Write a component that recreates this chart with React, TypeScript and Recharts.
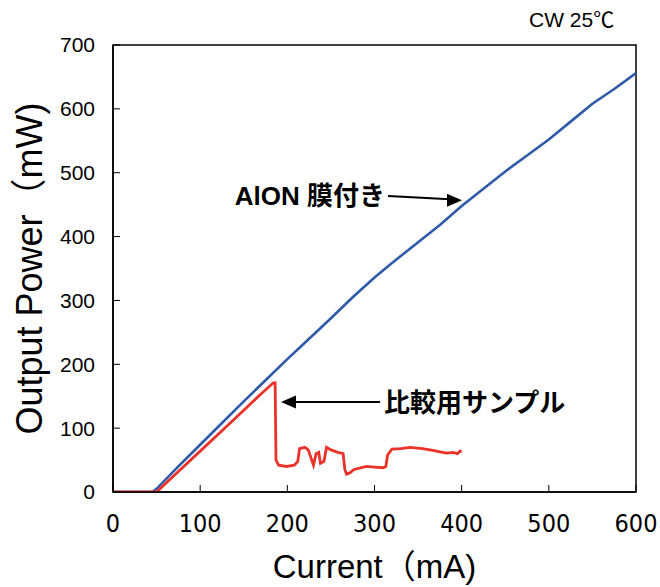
import {
    LineChart,
    Line,
    XAxis,
    YAxis,
    ReferenceArea,
    ReferenceLine,
    ReferenceDot,
} from 'recharts';

// Current (mA) / output power (mW)
const aionCurrent = [0, 45, 50, 75, 100, 125, 150, 175, 200, 225, 250, 275, 300, 325, 350, 375, 400, 425, 450, 475, 500, 525, 550, 575, 600];
const aionPower = [0, 0, 5, 40, 74, 108, 142, 175, 208, 240, 272, 305, 336, 364, 391, 418, 448, 475, 502, 527, 552, 580, 608, 631, 656];

const refCurrent = [0, 50, 75, 100, 125, 150, 170, 184, 186, 187, 190, 199, 208, 212, 214, 220, 224, 228, 230, 233, 236, 238, 242, 245, 250, 258, 264, 266, 268, 272, 276, 285, 291, 300, 310, 313, 315, 320, 330, 341, 355, 367, 375, 383, 390, 395, 398, 400];
const refPower = [0, 0, 32, 64, 96, 128, 154, 171, 171, 50, 42, 40, 42, 48, 68, 70, 66, 50, 42, 60, 62, 45, 48, 70, 66, 62, 60, 35, 28, 30, 35, 38, 40, 39, 38, 40, 58, 67, 68, 70, 68, 65, 63, 61, 62, 60, 64, 63];

const xTicks = [0, 100, 200, 300, 400, 500, 600];
const yTicks = [0, 100, 200, 300, 400, 500, 600, 700];

const aionData = aionCurrent.map((x, i) => ({ x, y: aionPower[i] }));
const refData = refCurrent.map((x, i) => ({ x, y: refPower[i] }));

const BLUE = '#2f5aaa';
const RED = '#eb3229';
const LABEL_FONT = '"Liberation Sans", Arial, "Noto Sans CJK JP", sans-serif';

const headRight = (props: any) => (
    <polygon
        points={`${props.cx},${props.cy} ${props.cx - 15},${props.cy - 6.5} ${props.cx - 15},${props.cy + 6.5}`}
        fill="#000"
    />
);

const headLeft = (props: any) => (
    <polygon
        points={`${props.cx},${props.cy} ${props.cx + 15},${props.cy - 6.5} ${props.cx + 15},${props.cy + 6.5}`}
        fill="#000"
    />
);

const textShape = (text: string, anchor: 'start' | 'end') => (props: any) => (
    <text
        x={props.cx}
        y={props.cy}
        textAnchor={anchor}
        dominantBaseline="central"
        fontFamily={LABEL_FONT}
        fontWeight="bold"
        fontSize={26}
        fill="#000"
    >
        {text}
    </text>
);

const YTitle = (props: any) => {
    const vb = props.viewBox;
    const cy = vb.y + vb.height / 2;
    return (
        <text
            transform={`translate(42, ${cy}) rotate(-90)`}
            textAnchor="middle"
            fontFamily={LABEL_FONT}
            fontSize={36}
            fill="#000"
        >
            Output Power（mW)
        </text>
    );
};

export default function App() {
    return (
        <div style={{ position: 'absolute', left: 0, top: 0, width: 660, height: 587, background: '#fff' }}>
            <div
                style={{
                    position: 'absolute',
                    left: 529,
                    top: 8,
                    fontFamily: LABEL_FONT,
                    fontSize: 21,
                    lineHeight: '24px',
                    color: '#000',
                }}
            >
                CW 25℃
            </div>
            <LineChart
                width={660}
                height={587}
                margin={{ top: 45, right: 24, bottom: 0, left: 0 }}
            >
                <XAxis
                    dataKey="x"
                    type="number"
                    domain={[0, 600]}
                    ticks={xTicks}
                    allowDataOverflow
                    height={95}
                    tickSize={-7}
                    tickMargin={29}
                    axisLine={{ stroke: '#000', strokeWidth: 1.5 }}
                    tickLine={{ stroke: '#000', strokeWidth: 1 }}
                    tick={{ fill: '#000', fontSize: 25, fontFamily: '"Liberation Sans Narrow", "DejaVu Sans Condensed", sans-serif' }}
                    label={{
                        value: 'Current（mA)',
                        position: 'insideBottom',
                        offset: 9,
                        fill: '#000',
                        fontSize: 33,
                        fontFamily: LABEL_FONT,
                    }}
                />
                <YAxis
                    dataKey="y"
                    type="number"
                    domain={[0, 700]}
                    ticks={yTicks}
                    allowDataOverflow
                    width={113}
                    tickSize={-7}
                    tickMargin={25}
                    axisLine={{ stroke: '#000', strokeWidth: 1.5 }}
                    tickLine={{ stroke: '#000', strokeWidth: 1 }}
                    tick={{ fill: '#000', fontSize: 21, fontFamily: LABEL_FONT }}
                    label={<YTitle />}
                />
                <ReferenceArea
                    x1={0}
                    x2={600}
                    y1={0}
                    y2={700}
                    fill="none"
                    stroke="#000"
                    strokeWidth={1.5}
                    fillOpacity={0}
                />
                <Line
                    data={aionData}
                    dataKey="y"
                    type="linear"
                    stroke={BLUE}
                    strokeWidth={2.6}
                    dot={false}
                    isAnimationActive={false}
                />
                <Line
                    data={refData}
                    dataKey="y"
                    type="linear"
                    stroke={RED}
                    strokeWidth={2.8}
                    dot={false}
                    isAnimationActive={false}
                />

                {/* AlON annotation */}
                <ReferenceLine
                    segment={[{ x: 315.5, y: 463.5 }, { x: 392, y: 458 }]}
                    stroke="#000"
                    strokeWidth={2}
                />
                <ReferenceDot x={400.4} y={457} r={1} shape={headRight} />
                <ReferenceDot x={312} y={463.5} r={1} shape={textShape('AlON  膜付き', 'end')} />

                {/* reference sample annotation */}
                <ReferenceLine
                    segment={[{ x: 306.3, y: 141 }, { x: 200, y: 141 }]}
                    stroke="#000"
                    strokeWidth={2}
                />
                <ReferenceDot x={192.7} y={141} r={1} shape={headLeft} />
                <ReferenceDot x={311} y={139} r={1} shape={textShape('比較用サンプル', 'start')} />
            </LineChart>
        </div>
    );
}
